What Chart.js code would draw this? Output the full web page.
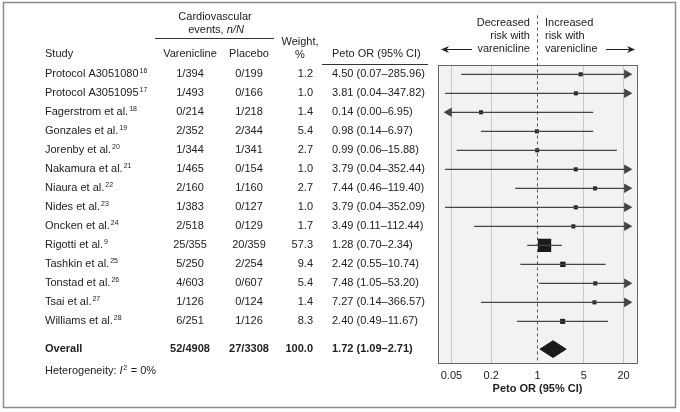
<!DOCTYPE html>
<html>
<head>
<meta charset="utf-8">
<script src="https://cdn.jsdelivr.net/npm/chart.js@4.4.1/dist/chart.umd.min.js"></script>
<style>
  html, body { margin: 0; padding: 0; background: #fff; }
  #wrap { position: relative; width: 680px; height: 412px; }
</style>
</head>
<body>
<div id="wrap"><canvas id="forest" width="680" height="412"></canvas></div>
<script>
// forest plot data
const studies = ['Protocol A3051080', 'Protocol A3051095', 'Fagerstrom et al.', 'Gonzales et al.', 'Jorenby et al.',
    'Nakamura et al.', 'Niaura et al.', 'Nides et al.', 'Oncken et al.', 'Rigotti et al.', 'Tashkin et al.',
    'Tonstad et al.', 'Tsai et al.', 'Williams et al.'];
const refs = ['16', '17', '18', '19', '20', '21', '22', '23', '24', '9', '25', '26', '27', '28'];
const vareniclineEvents = ['1/394', '1/493', '0/214', '2/352', '1/344', '1/465', '2/160', '1/383', '2/518', '25/355',
    '5/250', '4/603', '1/126', '6/251'];
const placeboEvents = ['0/199', '0/166', '1/218', '2/344', '1/341', '0/154', '1/160', '0/127', '0/129', '20/359',
    '2/254', '0/607', '0/124', '1/126'];
const weights = [1.2, 1.0, 1.4, 5.4, 2.7, 1.0, 2.7, 1.0, 1.7, 57.3, 9.4, 5.4, 1.4, 8.3];
const petoOR = [4.50, 3.81, 0.14, 0.98, 0.99, 3.79, 7.44, 3.79, 3.49, 1.28, 2.42, 7.48, 7.27, 2.40];
const ciLow = [0.07, 0.04, 0.00, 0.14, 0.06, 0.04, 0.46, 0.04, 0.11, 0.70, 0.55, 1.05, 0.14, 0.49];
const ciHigh = [285.96, 347.82, 6.95, 6.97, 15.88, 352.44, 119.40, 352.09, 112.44, 2.34, 10.74, 53.20, 366.57, 11.67];

const overallVarenicline = '52/4908';
const overallPlacebo = '27/3308';
const overallWeight = 100.0;
const overallOR = 1.72;
const overallLow = 1.09;
const overallHigh = 2.71;

const xTicks = [0.05, 0.2, 1, 5, 20];

// axis range / layout constants
const X_MIN = 0.0313, X_MAX = 32;
const ARROW_LO = 0.046, ARROW_HI = 22.5;
const Y_MIN = -0.49, Y_MAX = 15.19;
const OVERALL_ROW = 14.46;
const FONT = '"Liberation Sans", Arial, sans-serif';
const INK = '#222';
const LINE = '#444';

// table columns (px)
const COL_STUDY = 45, COL_VAR = 190, COL_PLA = 249, COL_WT = 313, COL_OR = 332;

const fmt = v => v.toFixed(2);

// CI segments, clipped where they run past the axis
const ciDatasets = studies.map((s, i) => ({
    type: 'line',
    data: [
        { x: ciLow[i] < X_MIN ? ARROW_LO : ciLow[i], y: i },
        { x: ciHigh[i] > X_MAX ? ARROW_HI : ciHigh[i], y: i }
    ],
    borderColor: LINE,
    borderWidth: 1.2,
    pointRadius: 0,
    fill: false
}));

const rightArrows = [];
const leftArrows = [];
studies.forEach((s, i) => {
    if (ciHigh[i] > X_MAX) rightArrows.push({ x: ARROW_HI, y: i });
    if (ciLow[i] < X_MIN) leftArrows.push({ x: ARROW_LO, y: i });
});

const squareSide = w => Math.max(4, 1.75 * Math.sqrt(w));

const tablePlugin = {
    id: 'tablePlugin',
    beforeDraw(chart) {
        const { ctx, chartArea: a } = chart;
        ctx.save();
        ctx.fillStyle = '#f2f2f2';
        ctx.fillRect(a.left, a.top, a.right - a.left, a.bottom - a.top);
        ctx.restore();
    },
    afterDraw(chart) {
        const { ctx, chartArea: a } = chart;
        const y = chart.scales.y;
        const x = chart.scales.x;
        ctx.save();

        // plot box
        ctx.strokeStyle = '#666';
        ctx.lineWidth = 1;
        ctx.strokeRect(Math.round(a.left) + 0.5, Math.round(a.top) + 0.5,
            Math.round(a.right - a.left), Math.round(a.bottom - a.top));

        // outer frame
        ctx.strokeStyle = '#8c8c8c';
        ctx.lineWidth = 1.5;
        ctx.strokeRect(3.5, 2.5, 672, 405);

        ctx.fillStyle = INK;
        ctx.textBaseline = 'middle';
        const txt = (t, px, py, align, font) => {
            ctx.font = font || ('11px ' + FONT);
            ctx.textAlign = align || 'left';
            ctx.fillText(t, px, py);
        };
        const sup = (t, px, py) => {
            ctx.font = '7px ' + FONT;
            ctx.textAlign = 'left';
            ctx.fillText(t, px, py - 3);
        };

        // column headers
        txt('Cardiovascular', 215, 17, 'center');
        ctx.font = '11px ' + FONT;
        const w1 = ctx.measureText('events, ').width;
        ctx.font = 'italic 11px ' + FONT;
        const w2 = ctx.measureText('n/N').width;
        const ex = 216 - (w1 + w2) / 2;
        txt('events, ', ex, 30, 'left');
        txt('n/N', ex + w1, 30, 'left', 'italic 11px ' + FONT);
        ctx.strokeStyle = '#333';
        ctx.lineWidth = 1;
        ctx.beginPath();
        ctx.moveTo(155, 38.5);
        ctx.lineTo(274, 38.5);
        ctx.stroke();
        txt('Weight,', 300, 42, 'center');
        txt('%', 300, 55, 'center');
        txt('Study', COL_STUDY, 54);
        txt('Varenicline', COL_VAR, 54, 'center');
        txt('Placebo', COL_PLA, 54, 'center');
        txt('Peto OR (95% CI)', COL_OR, 54);
        ctx.beginPath();
        ctx.moveTo(322, 64.5);
        ctx.lineTo(428, 64.5);
        ctx.stroke();

        // rows
        studies.forEach((s, i) => {
            const py = y.getPixelForValue(i);
            txt(s, COL_STUDY, py);
            ctx.font = '11px ' + FONT;
            sup(refs[i], COL_STUDY + ctx.measureText(s).width + 1, py);
            txt(vareniclineEvents[i], COL_VAR, py, 'center');
            txt(placeboEvents[i], COL_PLA, py, 'center');
            txt(weights[i].toFixed(1), COL_WT, py, 'right');
            txt(fmt(petoOR[i]) + ' (' + fmt(ciLow[i]) + '\u2013' + fmt(ciHigh[i]) + ')', COL_OR, py);
        });

        // overall row
        const oy = y.getPixelForValue(OVERALL_ROW);
        const bold = 'bold 11px ' + FONT;
        txt('Overall', COL_STUDY, oy, 'left', bold);
        txt(overallVarenicline, COL_VAR, oy, 'center', bold);
        txt(overallPlacebo, COL_PLA, oy, 'center', bold);
        txt(overallWeight.toFixed(1), COL_WT, oy, 'right', bold);
        txt(fmt(overallOR) + ' (' + fmt(overallLow) + '\u2013' + fmt(overallHigh) + ')', COL_OR, oy, 'left', bold);

        // heterogeneity
        const hy = oy + 22;
        txt('Heterogeneity: ', COL_STUDY, hy);
        ctx.font = '11px ' + FONT;
        let hx = COL_STUDY + ctx.measureText('Heterogeneity: ').width;
        txt('I', hx, hy, 'left', 'italic 11px ' + FONT);
        ctx.font = 'italic 11px ' + FONT;
        hx += ctx.measureText('I').width + 0.5;
        sup('2', hx, hy);
        hx += 4.5;
        txt(' = 0%', hx, hy);

        // axis title
        txt('Peto OR (95% CI)', (a.left + a.right) / 2, 389, 'center', bold);

        // direction header over the plot
        const x1 = x.getPixelForValue(1);
        txt('Decreased', x1 - 7.5, 23, 'right');
        txt('risk with', x1 - 7.5, 36, 'right');
        txt('varenicline', x1 - 7.5, 49, 'right');
        txt('Increased', x1 + 7.5, 23, 'left');
        txt('risk with', x1 + 7.5, 36, 'left');
        txt('varenicline', x1 + 7.5, 49, 'left');

        const hArrow = (from, to, py) => {
            const dir = Math.sign(to - from);
            ctx.strokeStyle = '#222';
            ctx.fillStyle = '#222';
            ctx.lineWidth = 1;
            ctx.beginPath();
            ctx.moveTo(from, py);
            ctx.lineTo(to - dir * 4, py);
            ctx.stroke();
            ctx.beginPath();
            ctx.moveTo(to, py);
            ctx.lineTo(to - dir * 8, py - 3.5);
            ctx.lineTo(to - dir * 5.5, py);
            ctx.lineTo(to - dir * 8, py + 3.5);
            ctx.closePath();
            ctx.fill();
        };
        hArrow(472, 441, 49.5);
        hArrow(606, 635, 49.5);

        ctx.restore();
    }
};

new Chart(document.getElementById('forest'), {
    type: 'scatter',
    data: {
        datasets: [
            ...ciDatasets,
            {
                // null line at OR = 1, running up into the header
                type: 'line',
                data: [{ x: 1, y: -3.1 }, { x: 1, y: Y_MAX }],
                borderColor: '#555',
                borderWidth: 1,
                borderDash: [3, 3],
                pointRadius: 0,
                clip: false
            },
            {
                data: rightArrows,
                pointStyle: 'triangle',
                rotation: 90,
                pointRadius: 5.5,
                backgroundColor: LINE,
                borderColor: LINE,
                borderWidth: 0
            },
            {
                data: leftArrows,
                pointStyle: 'triangle',
                rotation: -90,
                pointRadius: 5.5,
                backgroundColor: LINE,
                borderColor: LINE,
                borderWidth: 0
            },
            {
                data: petoOR.map((v, i) => ({ x: v, y: i })),
                pointStyle: 'rect',
                pointRadius: ctx => squareSide(weights[ctx.dataIndex]) / 1.414,
                backgroundColor: '#1a1a1a',
                borderColor: '#1a1a1a',
                borderWidth: 0
            },
            {
                type: 'line',
                data: [{ x: overallLow, y: OVERALL_ROW }, { x: overallOR, y: OVERALL_ROW - 0.44 },
                    { x: overallHigh, y: OVERALL_ROW }],
                borderColor: '#1a1a1a',
                borderWidth: 1,
                backgroundColor: '#1a1a1a',
                pointRadius: 0,
                tension: 0,
                fill: '+1'
            },
            {
                type: 'line',
                data: [{ x: overallLow, y: OVERALL_ROW }, { x: overallOR, y: OVERALL_ROW + 0.44 },
                    { x: overallHigh, y: OVERALL_ROW }],
                borderColor: '#1a1a1a',
                borderWidth: 1,
                backgroundColor: '#1a1a1a',
                pointRadius: 0,
                tension: 0,
                fill: false
            }
        ]
    },
    options: {
        responsive: false,
        animation: false,
        layout: {
            padding: { left: 438, right: 43, top: 65, bottom: 0 }
        },
        plugins: {
            legend: { display: false },
            tooltip: { enabled: false }
        },
        scales: {
            x: {
                type: 'logarithmic',
                min: X_MIN,
                max: X_MAX,
                afterBuildTicks: scale => {
                    scale.ticks = xTicks.map(v => ({ value: v }));
                },
                afterFit: scale => {
                    scale.height = 49;
                },
                ticks: {
                    callback: v => String(v),
                    color: INK,
                    font: { family: FONT, size: 11 },
                    padding: 6,
                    autoSkip: false,
                    maxRotation: 0
                },
                grid: {
                    color: ctx => (ctx.tick && ctx.tick.value === 1) ? 'rgba(0,0,0,0)' : '#cacaca',
                    drawTicks: false,
                    lineWidth: 1
                },
                border: { display: false },
                title: { display: false }
            },
            y: {
                type: 'linear',
                reverse: true,
                min: Y_MIN,
                max: Y_MAX,
                display: false
            }
        }
    },
    plugins: [tablePlugin]
});
</script>
</body>
</html>
